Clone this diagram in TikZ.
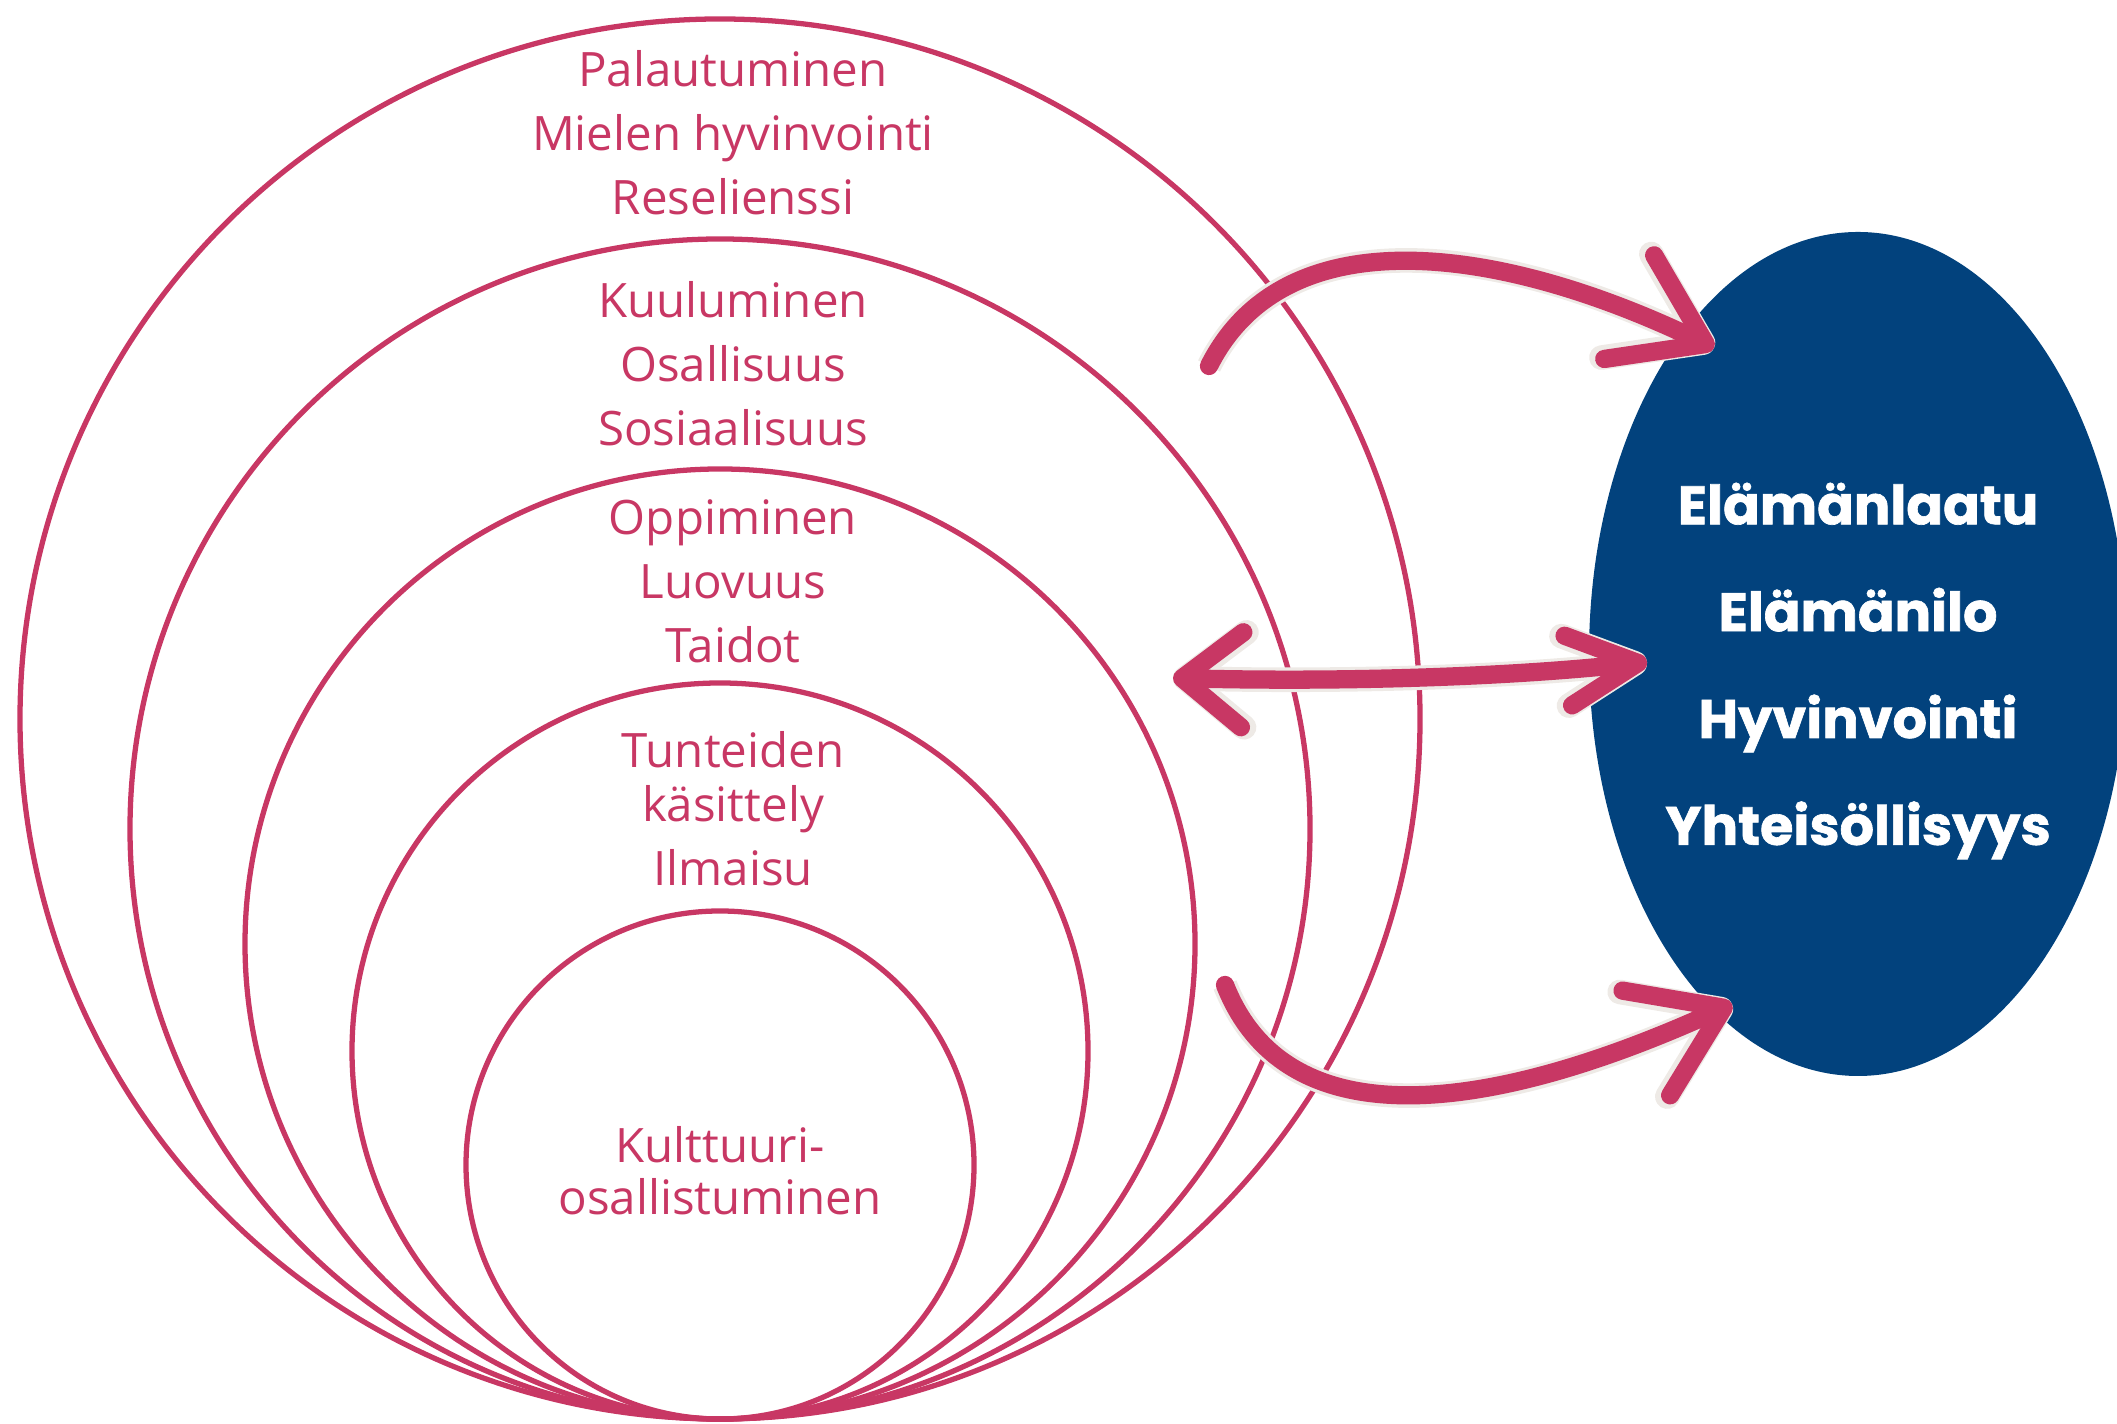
\documentclass[tikz,border=0pt]{standalone}
\usepackage{fontspec}
\setmainfont{Open Sans}
\newfontfamily\ovalfont{Poppins}[BoldFeatures={FakeBold=1.2}]
\usetikzlibrary{arrows.meta,shapes.geometric}

\definecolor{rose}{RGB}{200,55,100}
\definecolor{navy}{RGB}{2,66,125}
\definecolor{halo}{RGB}{238,234,230}

\tikzset{
  ring/.style={draw=rose, line width=1.5pt},
  ringtext/.style={text=rose, align=center, font=\fontsize{13.5}{18.2}\selectfont},
  ovaltext/.style={text=white, align=center, font=\ovalfont\bfseries\fontsize{15.4}{30.4}\selectfont},
  brush/.style={draw=rose, line width=5.2pt, line cap=round, preaction={draw=halo, line width=7pt}},
  bighead/.style={-{Straight Barb[length=8.5mm, width=11.5mm, round]}},
}

\begin{document}
\begin{tikzpicture}
\useasboundingbox (0,0) rectangle (21.17,14.24);
\clip (0,0) rectangle (21.17,14.24);

\foreach \r in {7.00,5.90,4.75,3.68,2.54}
  \draw[ring] (7.20,{0.05+\r}) circle (\r);

\node[ellipse, fill=navy, minimum width=5.38cm, minimum height=8.44cm, inner sep=0pt, outer sep=0pt] (quality) at (18.58,7.70) {};

\coordinate (tail1) at (12.09,10.58);
\coordinate (head1) at (17.14,10.76);
\coordinate (tail2) at (11.73,7.46);
\coordinate (head2) at (16.47,7.62);
\coordinate (tail3) at (12.25,4.39);
\coordinate (head3) at (17.32,4.20);

\draw[brush, bighead] (tail1) .. controls (12.85,12.09) and (15.00,11.79) .. (head1);
\draw[brush, {Straight Barb[length=6mm, width=9.5mm, round]}-{Straight Barb[length=7mm, width=7mm, round]}] (tail2) .. controls (13.30,7.42) and (15.00,7.46) .. (head2);
\draw[brush, bighead] (tail3) .. controls (12.90,2.74) and (15.10,3.19) .. (head3);

\node[ringtext] (recovery) at (7.33,12.91) {Palautuminen\\Mielen hyvinvointi\\Reselienssi};
\node[ringtext] (belonging) at (7.33,10.60) {Kuuluminen\\Osallisuus\\Sosiaalisuus};
\node[ringtext] (learning) at (7.33,8.43) {Oppiminen\\Luovuus\\Taidot};
\node[ringtext] (emotions) at (7.33,6.15) {Tunteiden\\[-2.9pt]käsittely\\Ilmaisu};
\node[ringtext, font=\fontsize{13.5}{14.8}\selectfont] (culture) at (7.20,2.53) {Kulttuuri-\\osallistuminen};

\node[ovaltext] (goals) at (18.58,7.53) {Elämänlaatu\\Elämänilo\\Hyvinvointi\\Yhteisöllisyys};
\end{tikzpicture}
\end{document}
